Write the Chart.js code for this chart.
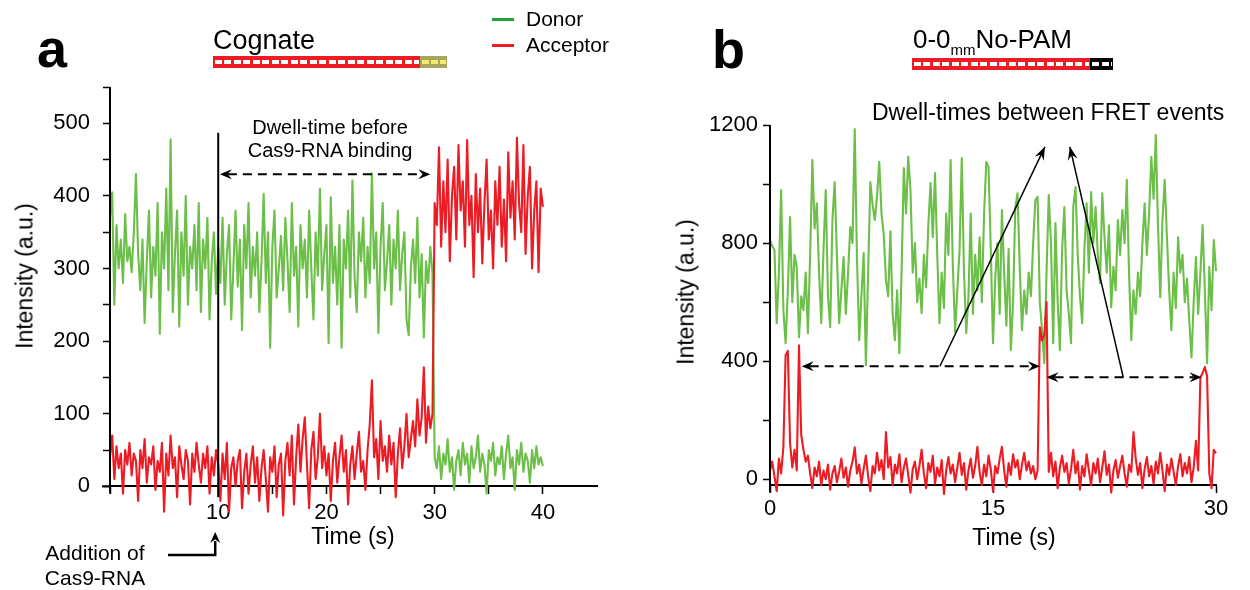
<!DOCTYPE html>
<html>
<head>
<meta charset="utf-8">
<script src="https://cdn.jsdelivr.net/npm/chart.js@4.4.0/dist/chart.umd.min.js"></script>
<style>
  body { margin: 0; width: 1250px; height: 590px; background: #fff; position: relative; overflow: hidden;
         font-family: "Liberation Sans", Arial, sans-serif; color: #000; }
  canvas { position: absolute; top: 0; }
  .t { position: absolute; white-space: nowrap; line-height: 1; }
  .c { transform: translateX(-50%); text-align: center; }
  .rot { transform: translate(-50%, -50%) rotate(-90deg); }
  .leg { position: absolute; width: 22px; height: 3px; }
  .dna { position: absolute; height: 12px; }
  .rungs { position: absolute; left: 2px; right: 1px; top: 4px; height: 4px;
           background: repeating-linear-gradient(90deg, #fff 0 7px, transparent 7px 9.5px); }
  sub { font-size: 15px; vertical-align: -7px; line-height: 0; }
</style>
</head>
<body>
<canvas id="chartA" width="640" height="590" style="left:0"></canvas>
<canvas id="chartB" width="610" height="590" style="left:640px"></canvas>

<!-- panel a texts -->
<div class="t" style="left:37px;top:21px;font-size:54px;font-weight:bold">a</div>
<div class="t" style="left:213px;top:27px;font-size:27px">Cognate</div>
<div class="dna" style="left:213px;top:56px;width:207px;background:#ed1c24"><div class="rungs"></div></div>
<div class="dna" style="left:420px;top:56px;width:27px;background:#a9a55c"><div class="rungs" style="background:repeating-linear-gradient(90deg,#f4ea74 0 7px,transparent 7px 9px)"></div></div>
<div class="leg" style="left:492px;top:18px;background:#22a03c"></div>
<div class="t" style="left:526px;top:8px;font-size:21px">Donor</div>
<div class="leg" style="left:492px;top:44px;background:#ed1c24"></div>
<div class="t" style="left:526px;top:34px;font-size:21px">Acceptor</div>
<div class="t c" style="left:330px;top:116px;font-size:20px;line-height:23px">Dwell-time before<br>Cas9-RNA binding</div>
<div class="t c" style="left:95px;top:540px;font-size:21px;line-height:25px">Addition of<br>Cas9-RNA</div>
<div class="t c" style="left:353px;top:525px;font-size:23px">Time (s)</div>
<div class="t rot" style="left:25px;top:276px;font-size:23px">Intensity (a.u.)</div>

<!-- panel b texts -->
<div class="t" style="left:712px;top:22px;font-size:54px;font-weight:bold">b</div>
<div class="t" style="left:913px;top:26px;font-size:26px">0-0<sub>mm</sub>No-PAM</div>
<div class="dna" style="left:912px;top:58px;width:178px;background:#ed1c24"><div class="rungs"></div></div>
<div class="dna" style="left:1090px;top:58px;width:23px;background:#000"><div class="rungs"></div></div>
<div class="t" style="left:872px;top:101px;font-size:23px">Dwell-times between FRET events</div>
<div class="t c" style="left:1014px;top:526px;font-size:23px">Time (s)</div>
<div class="t rot" style="left:686px;top:292px;font-size:23px">Intensity (a.u.)</div>

<script>
// ---- panel a: Cognate, frames every 0.2 s, 0-40 s ----
const frameA = 0.2;
const donorA = [
  370, 405, 250, 360, 300, 340, 280, 375, 310, 330,
  295, 350, 430, 320, 270, 340, 225, 310, 380, 260,
  330, 290, 390, 210, 350, 300, 410, 270, 478, 240,
  320, 380, 220, 350, 290, 400, 250, 330, 300, 360,
  270, 390, 240, 340, 300, 370, 230, 310, 350, 265,
  330, 280, 370, 250, 320, 360, 230, 300, 380, 275,
  340, 215, 360, 300, 390, 260, 330, 290, 350, 240,
  310, 403, 280, 350, 191, 330, 380, 260, 300, 345,
  270, 370, 310, 240, 390, 290, 330, 220, 360, 300,
  340, 260, 380, 300, 230, 350, 290, 410, 270, 320,
  360, 197, 398, 280, 330, 250, 360, 191, 340, 300,
  380, 260, 421, 290, 240, 350, 310, 370, 260, 330,
  280, 431, 300, 350, 211, 330, 390, 270, 310, 360,
  250, 340, 300, 380, 270, 320, 350, 230, 208, 300,
  340, 280, 370, 260, 320, 205, 310, 280, 330, 293,
  40, 25, 55, 10, 45, 30, 65, 20, 40, -5,
  35, 50, 15, 60, 30, 45, 5, 55, 25, 40,
  70, 20, 45, 30, -10, 50, 35, 60, 15, 40,
  30, 55, 10, 45, 70, 25, 40, -5, 50, 30,
  60, 20, 45, 35, 5, 50, 25, 55, 30, 40, 28
];
const acceptorA = [
  40, 70, 10, 55, 25, 45, -10, 50, 30, 60,
  15, 45, 35, -20, 50, 25, 65, 5, 40, 30,
  55, -5, 35, 20, 60, -35, 45, 15, 70, 25,
  40, -15, 55, 30, 10, 50, 35, -25, 45, 20,
  60, 30, 5, 45, 25, 55, -10, 40, 15, 50,
  30, -20, 45, 10, 60, -35, 25, 40, 0, 35,
  50, -30, 20, 45, -10, 30, 55, 5, 40, -20,
  25, 50, 10, -35, 40, 20, 55, -15, 30, 45,
  -40, 35, 60, 15, 70, -25, 40, 85, 20, 65,
  95, 30, -30, 50, 75, 10, 40, 100, 25, 55,
  15, 45, -20, 35, 60, 5, 40, 70, 20, 50,
  -25, 30, 55, 10, 45, 75, 20, 35, -5, 50,
  85, 146, 40, 65, 10, 90, 35, 55, 20, 70,
  30, 60, -15, 45, 80, 25, 55, 100, 40, 65,
  90, 55, 120, 70, 95, 164, 60, 110, 80, 100,
  390, 360, 467, 330, 420, 350, 450, 310, 400, 440,
  340, 470, 380, 420, 330, 477, 360, 400, 288, 430,
  350, 410, 307, 390, 450, 340, 380, 300, 420, 360,
  440, 330, 395, 310, 460, 370, 420, 340, 480, 390,
  350, 470, 320, 400, 440, 300, 380, 420, 295, 410, 385
];
const xTicksA = [0, 5, 10, 15, 20, 25, 30, 35, 40];
const xLabelsA = [10, 20, 30, 40];
const yTicksA = [0, 50, 100, 150, 200, 250, 300, 350, 400, 450, 500, 550];
const yLabelsA = [0, 100, 200, 300, 400, 500];

// ---- panel b: 0-0mm No-PAM, frames every 0.15 s, 0-30 s ----
const frameB = 0.15;
const donorB = [
  810, 790, 776, 529, 700, 980, 573, 461, 640, 888,
  600, 760, 719, 481, 620, 573, 700, 495, 760, 1081,
  850, 935, 700, 529, 780, 980, 620, 515, 880, 1007,
  760, 529, 640, 753, 560, 700, 854, 800, 1186, 750,
  471, 620, 766, 386, 700, 1007, 930, 878, 960, 1075,
  900, 830, 675, 620, 840, 560, 471, 640, 427, 700,
  1054, 900, 1092, 980, 700, 800, 600, 680, 563, 760,
  650, 860, 1003, 820, 1037, 760, 529, 700, 580, 900,
  760, 1081, 720, 500, 640, 776, 1088, 700, 495, 620,
  900, 560, 760, 640, 820, 600, 900, 1075, 1058, 780,
  461, 680, 800, 560, 912, 700, 520, 780, 437, 600,
  922, 969, 720, 505, 640, 560, 700, 620, 800, 946,
  957, 600, 505, 393, 700, 963, 800, 461, 868, 600,
  437, 780, 922, 640, 560, 461, 922, 990, 760, 620,
  529, 780, 935, 700, 973, 800, 922, 760, 664, 969,
  820, 700, 860, 583, 720, 640, 878, 760, 912, 800,
  1014, 700, 471, 640, 560, 700, 620, 800, 935, 760,
  900, 1092, 950, 1166, 860, 617, 880, 1014, 820, 640,
  505, 700, 580, 820, 700, 760, 600, 680, 540, 413,
  600, 753, 560, 700, 861, 640, 393, 720, 573, 810, 705
];
const acceptorB = [
  30, 60, 10, -40, 70, 20, 110, 420, 435, 122,
  40, 100, 30, 454, 150, 100, 60, 80, 20, -30,
  40, 10, 60, -20, 30, 0, 50, -35, 20, 45,
  -10, 25, 70, 5, 40, -25, 30, 60, 108, 20,
  50, -15, 35, 80, 10, -40, 45, 20, 90, 30,
  65, 0, 160, 40, 75, -20, 50, 20, 85, -10,
  40, 70, 15, -45, 35, 60, 0, 45, 100, 20,
  -30, 55, 25, 80, -15, 40, 10, 65, -50, 30,
  75, 20, 50, -10, 40, 90, 15, 55, -35, 30,
  70, 5, 45, 110, 25, -20, 50, 10, 80, 35,
  -40, 45, 20, 70, 110, 30, -25, 55, 15, 85,
  40, 65, 0, 50, 90, 30, 60, 20, 45, 0,
  30, 515, 470, 490, 600, 25, 90, 10, 60, -30,
  40, 80, 25, 55, -15, 35, 100, 20, 60, -35,
  45, 10, 85, 30, -20, 55, 20, 70, -10, 40,
  95, 15, 50, -45, 30, 65, 5, 45, 80, 20,
  -25, 50, 25, 160, 70, 15, 55, -30, 35, 75,
  10, 45, -15, 60, 20, 90, 30, -40, 50, 15,
  70, 25, -20, 45, 85, 10, 55, 20, 75, -10,
  40, 130, 30, 345, 360, 380, 350, 20, -30, 100, 88
];
const xTicksB = [0, 15, 30];
const xLabelsB = [0, 15, 30];
const yTicksB = [0, 200, 400, 600, 800, 1000, 1200];
const yLabelsB = [0, 400, 800, 1200];

const donorColor = '#6cbf48';
const acceptorColor = '#ec1c24';

Chart.defaults.font.family = '"Liberation Sans", Arial, sans-serif';
Chart.defaults.color = '#000';

function toPoints(values, frame) {
  return values.map((v, i) => ({ x: +(i * frame).toFixed(2), y: v }));
}

function line(ctx, x1, y1, x2, y2) {
  ctx.beginPath();
  ctx.moveTo(x1, y1);
  ctx.lineTo(x2, y2);
  ctx.stroke();
}

// stealth style arrow head, tip at (x, y), pointing along ang
function arrowHead(ctx, x, y, ang, len, wid) {
  ctx.save();
  ctx.translate(x, y);
  ctx.rotate(ang);
  ctx.beginPath();
  ctx.moveTo(0, 0);
  ctx.lineTo(-len, -wid / 2);
  ctx.lineTo(-len * 0.65, 0);
  ctx.lineTo(-len, wid / 2);
  ctx.closePath();
  ctx.fill();
  ctx.restore();
}

function dashedArrow(ctx, x1, x2, y) {
  ctx.save();
  ctx.lineWidth = 2;
  ctx.setLineDash([9, 6]);
  line(ctx, x1 + 8, y, x2 - 8, y);
  ctx.restore();
  arrowHead(ctx, x1, y, Math.PI, 12, 10);
  arrowHead(ctx, x2, y, 0, 12, 10);
}

function pointerArrow(ctx, x1, y1, x2, y2) {
  ctx.lineWidth = 1.5;
  line(ctx, x1, y1, x2, y2);
  arrowHead(ctx, x2, y2, Math.atan2(y2 - y1, x2 - x1), 13, 10);
}

const annotateA = {
  id: 'annotateA',
  afterDatasetsDraw(chart) {
    const { ctx, scales: { x, y } } = chart;
    ctx.save();
    ctx.strokeStyle = '#000';
    ctx.fillStyle = '#000';
    ctx.lineWidth = 2;
    const x0 = x.getPixelForValue(0);
    line(ctx, x0, y.getPixelForValue(-10), x0, y.getPixelForValue(550));
    line(ctx, x0 - 8, y.getPixelForValue(0), x0, y.getPixelForValue(0));
    // moment Cas9-RNA was added
    const xb = x.getPixelForValue(10);
    line(ctx, xb, y.getPixelForValue(487), xb, y.getPixelForValue(-15));
    dashedArrow(ctx, x.getPixelForValue(10.15), x.getPixelForValue(29.6), y.getPixelForValue(430));
    // bent arrow from "Addition of Cas9-RNA"
    ctx.lineWidth = 2.5;
    const xa = xb - 3;
    ctx.beginPath();
    ctx.moveTo(168, 555);
    ctx.lineTo(xa, 555);
    ctx.lineTo(xa, 541);
    ctx.stroke();
    arrowHead(ctx, xa, 532, -Math.PI / 2, 11, 10);
    ctx.restore();
  }
};

const annotateB = {
  id: 'annotateB',
  afterDatasetsDraw(chart) {
    const { ctx, scales: { x, y } } = chart;
    ctx.save();
    ctx.strokeStyle = '#000';
    ctx.fillStyle = '#000';
    ctx.lineWidth = 2;
    const x0 = x.getPixelForValue(0);
    line(ctx, x0, y.getPixelForValue(-45), x0, y.getPixelForValue(1200));
    dashedArrow(ctx, x.getPixelForValue(2.13), x.getPixelForValue(18.16), y.getPixelForValue(383));
    dashedArrow(ctx, x.getPixelForValue(18.6), x.getPixelForValue(29.03), y.getPixelForValue(346));
    pointerArrow(ctx, x.getPixelForValue(11.43), y.getPixelForValue(383), x.getPixelForValue(18.49), y.getPixelForValue(1126));
    pointerArrow(ctx, x.getPixelForValue(23.76), y.getPixelForValue(346), x.getPixelForValue(20.17), y.getPixelForValue(1126));
    ctx.restore();
  }
};

function traceSet(label, values, frame, color, order) {
  return {
    label: label,
    data: toPoints(values, frame),
    borderColor: color,
    backgroundColor: color,
    borderWidth: 2.1,
    borderJoinStyle: 'round',
    pointRadius: 0,
    tension: 0,
    clip: 4,
    order: order
  };
}

function axisX(min, max, posY, ticks, labels, pad) {
  return {
    type: 'linear', min: min, max: max, position: { y: posY },
    afterBuildTicks: s => { s.ticks = ticks.map(v => ({ value: v })); },
    ticks: { autoSkip: false, maxRotation: 0, padding: pad, font: { size: 22 },
             callback: v => labels.includes(v) ? String(v) : '' },
    grid: { drawOnChartArea: false, drawTicks: true, tickLength: 7, tickWidth: 1.5, tickColor: '#000' },
    border: { display: true, color: '#000', width: 2 }
  };
}

function axisY(min, max, width, ticks, labels, pad) {
  return {
    type: 'linear', min: min, max: max, position: 'left',
    afterFit: s => { s.width = width; },
    afterBuildTicks: s => { s.ticks = ticks.map(v => ({ value: v })); },
    ticks: { autoSkip: false, padding: pad, font: { size: 22 },
             callback: v => labels.includes(v) ? String(v) : '' },
    grid: { drawOnChartArea: false, drawTicks: true, tickLength: 7, tickWidth: 1.5, tickColor: '#000' },
    border: { display: false }
  };
}

new Chart(document.getElementById('chartA'), {
  type: 'line',
  data: {
    datasets: [
      traceSet('Acceptor', acceptorA, frameA, acceptorColor, 1),
      traceSet('Donor', donorA, frameA, donorColor, 2)
    ]
  },
  options: {
    responsive: false,
    animation: false,
    layout: { padding: { left: 0, top: 87, right: 43, bottom: 71 } },
    plugins: { legend: { display: false }, tooltip: { enabled: false } },
    scales: {
      x: axisX(0, 45, 0, xTicksA, xLabelsA, 6),
      y: axisY(-45, 550, 110, yTicksA, yLabelsA, 13)
    }
  },
  plugins: [annotateA]
});

new Chart(document.getElementById('chartB'), {
  type: 'line',
  data: {
    datasets: [
      traceSet('Acceptor', acceptorB, frameB, acceptorColor, 1),
      traceSet('Donor', donorB, frameB, donorColor, 2)
    ]
  },
  options: {
    responsive: false,
    animation: false,
    layout: { padding: { left: 0, top: 125, right: 34, bottom: 93 } },
    plugins: { legend: { display: false }, tooltip: { enabled: false } },
    scales: {
      x: axisX(0, 30, -20, xTicksB, xLabelsB, 4),
      y: axisY(-60, 1200, 130, yTicksB, yLabelsB, 5)
    }
  },
  plugins: [annotateB]
});
</script>
</body>
</html>
